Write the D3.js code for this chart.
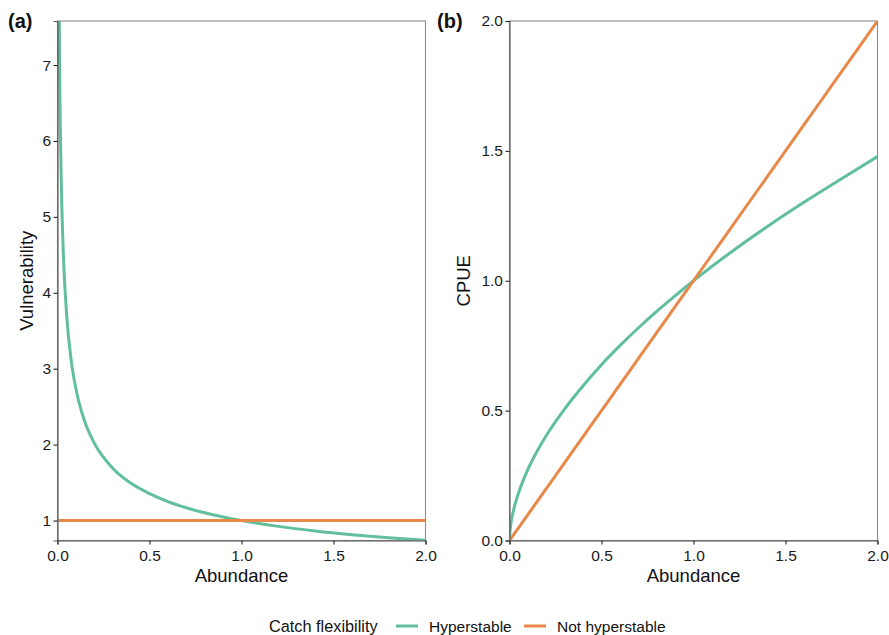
<!DOCTYPE html>
<html>
<head>
<meta charset="utf-8">
<script src="https://cdn.jsdelivr.net/npm/d3@7"></script>
<style>
  html, body { margin: 0; padding: 0; background: #fff; }
  svg { display: block; font-family: "Liberation Sans", Arial, Helvetica, sans-serif; }
</style>
</head>
<body>
<svg id="chart" width="889" height="635"></svg>
<script>
// ---- Data ----
const abundanceA = [0.005, 0.01, 0.02, 0.03, 0.05, 0.075, 0.1, 0.15, 0.2, 0.3, 0.4, 0.5, 0.6, 0.7, 0.8, 0.9, 1.0, 1.2, 1.4, 1.6, 1.8, 2.0];
const vulnHyper   = [10.1, 7.48, 5.53, 4.63, 3.70, 3.10, 2.735, 2.29, 2.02, 1.69, 1.49, 1.354, 1.25, 1.169, 1.102, 1.047, 1.0, 0.923, 0.863, 0.814, 0.773, 0.739];
const vulnNotHyper = [1, 1, 1, 1, 1, 1, 1, 1, 1, 1, 1, 1, 1, 1, 1, 1, 1, 1, 1, 1, 1, 1];

const abundanceB = [0, 0.002, 0.005, 0.01, 0.02, 0.03, 0.05, 0.075, 0.1, 0.15, 0.2, 0.3, 0.4, 0.5, 0.6, 0.7, 0.8, 0.9, 1.0, 1.2, 1.4, 1.6, 1.8, 2.0];
const cpueHyper    = [0, 0.030, 0.051, 0.0758, 0.1106, 0.139, 0.185, 0.2325, 0.2735, 0.3435, 0.404, 0.507, 0.596, 0.677, 0.75, 0.818, 0.882, 0.942, 1.0, 1.108, 1.208, 1.302, 1.391, 1.478];
const cpueNotHyper = [0, 0.002, 0.005, 0.01, 0.02, 0.03, 0.05, 0.075, 0.1, 0.15, 0.2, 0.3, 0.4, 0.5, 0.6, 0.7, 0.8, 0.9, 1.0, 1.2, 1.4, 1.6, 1.8, 2.0];

const xTicks = [0, 0.5, 1.0, 1.5, 2.0];
const yTicksA = [1, 2, 3, 4, 5, 6, 7];
const yTicksB = [0, 0.5, 1.0, 1.5, 2.0];
const yDomainA = [0.737, 7.58];
const yDomainB = [0, 2];
const seriesNames = ["Hyperstable", "Not hyperstable"];
const seriesColors = ["#62bf9e", "#e8894a"];
const legendTitle = "Catch flexibility";

// ---- Layout ----
const svg = d3.select("#chart");
const plotTop = 21, plotBottom = 540.5;
const panels = [
  { id: "a", label: "(a)", left: 57.5, right: 425.5, yTitle: "Vulnerability", yDomain: yDomainA, yTicks: yTicksA,
    fmt: d3.format("d"), xs: abundanceA, series: [vulnHyper, vulnNotHyper], labelX: 8, yTitleX: 33 },
  { id: "b", label: "(b)", left: 509.5, right: 877.5, yTitle: "CPUE", yDomain: yDomainB, yTicks: yTicksB,
    fmt: d3.format(".1f"), xs: abundanceB, series: [cpueHyper, cpueNotHyper], labelX: 437, yTitleX: 470 }
];

panels.forEach(p => {
  const x = d3.scaleLinear().domain([0, 2]).range([p.left, p.right]);
  const y = d3.scaleLinear().domain(p.yDomain).range([plotBottom, plotTop]);
  const g = svg.append("g");

  g.append("clipPath").attr("id", "clip-" + p.id)
    .append("rect").attr("x", p.left).attr("y", plotTop).attr("width", p.right - p.left).attr("height", plotBottom - plotTop);

  // panel border
  g.append("rect").attr("x", p.left).attr("y", plotTop).attr("width", p.right - p.left).attr("height", plotBottom - plotTop)
    .attr("fill", "none").attr("stroke", "#8c8c8c").attr("stroke-width", 1.1);

  // lines
  const line = d3.line().x((d, i) => x(p.xs[i])).y(d => y(d)).curve(d3.curveMonotoneX);
  const lg = g.append("g").attr("clip-path", `url(#clip-${p.id})`);
  p.series.forEach((s, k) => {
    lg.append("path").datum(s).attr("d", line).attr("fill", "none")
      .attr("stroke", seriesColors[k]).attr("stroke-width", 3).attr("stroke-linecap", "butt");
  });

  // axes
  const xAxis = d3.axisBottom(x).tickValues(xTicks).tickFormat(d3.format(".1f")).tickSize(4).tickPadding(5);
  const gx = g.append("g").attr("transform", `translate(0,${plotBottom})`).call(xAxis);
  const yAxis = d3.axisLeft(y).tickValues(p.yTicks).tickFormat(p.fmt).tickSize(4).tickPadding(2.5);
  const gy = g.append("g").attr("transform", `translate(${p.left},0)`).call(yAxis);
  [gx, gy].forEach(a => {
    a.select(".domain").attr("stroke", "#555").attr("stroke-width", 1.1);
    a.selectAll(".tick line").attr("stroke", "#222").attr("stroke-width", 1.1);
    a.selectAll(".tick text").attr("fill", "#1a1a1a").style("font-size", "15.5px")
      .style("font-family", '"Liberation Sans", Arial, sans-serif');
  });

  // titles
  g.append("text").attr("x", (p.left + p.right) / 2).attr("y", 582).attr("text-anchor", "middle")
    .style("font-size", "18.5px").attr("fill", "#111").text("Abundance");
  g.append("text").attr("transform", `translate(${p.yTitleX},${(plotTop + plotBottom) / 2}) rotate(-90)`)
    .attr("text-anchor", "middle").style("font-size", "18.5px").attr("fill", "#111").text(p.yTitle);
  g.append("text").attr("x", p.labelX).attr("y", 28).style("font-size", "20px").style("font-weight", "bold")
    .attr("fill", "#111").text(p.label);
});

// ---- Legend ----
const leg = svg.append("g");
const ly = 626;
leg.append("text").attr("x", 269).attr("y", ly + 6).style("font-size", "16.3px").attr("fill", "#111").text(legendTitle);
const keyX = [396, 524];
const labX = [429, 557];
seriesNames.forEach((n, k) => {
  leg.append("line").attr("x1", keyX[k]).attr("x2", keyX[k] + 22).attr("y1", ly).attr("y2", ly)
    .attr("stroke", seriesColors[k]).attr("stroke-width", 3);
  leg.append("text").attr("x", labX[k]).attr("y", ly + 6).style("font-size", "15.5px").attr("fill", "#111").text(n);
});
</script>
</body>
</html>
